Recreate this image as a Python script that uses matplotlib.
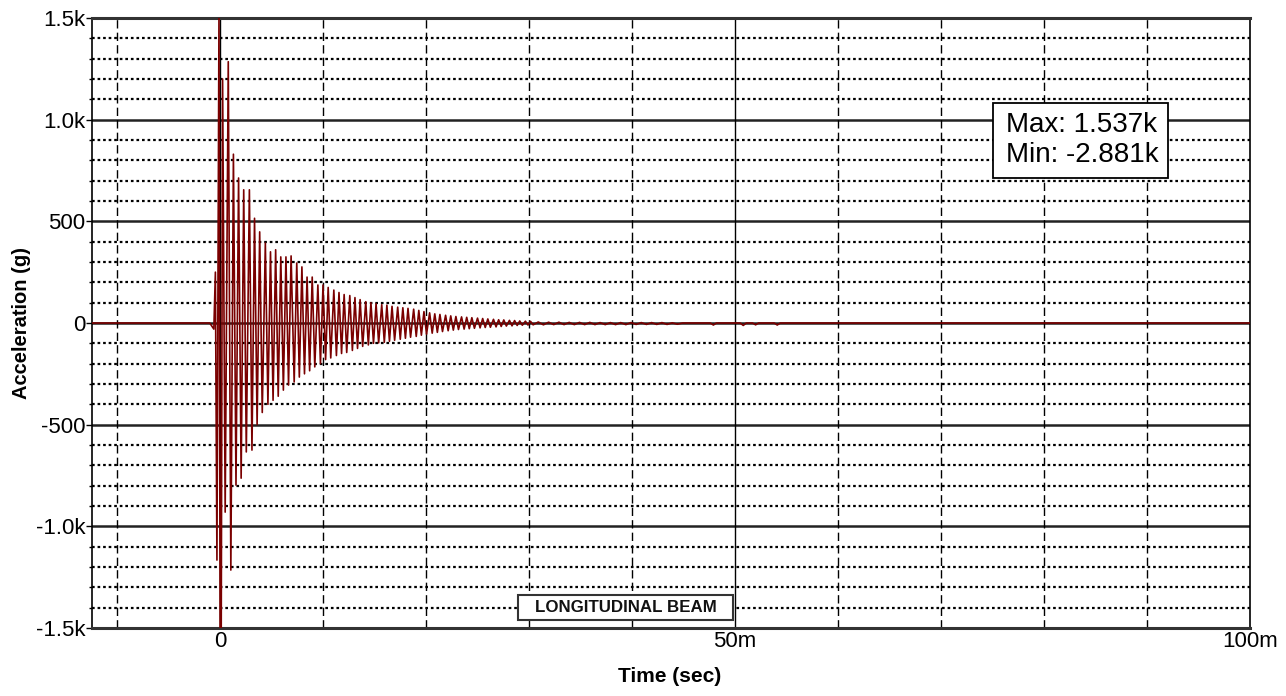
import matplotlib
matplotlib.use("Agg")
import matplotlib.pyplot as plt
from matplotlib.ticker import FixedLocator
from matplotlib.patches import Rectangle
import numpy as np

plt.rcParams['font.family'] = ['Liberation Sans', 'DejaVu Sans']

# ---- data: (time in ms, acceleration in g) ----
onset = [(-12.43, 0), (-1.0, 0), (-0.6, -30), (-0.45, 250), (-0.3, -1166), (-0.1, 1537),
         (0.05, -2881), (0.25, 1200), (0.5, -930), (0.8, 1285), (1.05, -1215), (1.3, 830),
         (1.55, -797), (1.8, 713), (2.05, -763), (2.3, 655), (2.55, -634), (2.85, 655),
         (3.1, -625)]
decay = [(3.35, 515), (3.6, -500), (3.85, 448), (4.1, -440), (4.4, 393), (4.65, -400),
         (4.9, 350), (5.15, -380), (5.4, 360), (5.65, -360), (5.9, 325), (6.15, -330),
         (6.4, 325), (6.65, -305), (6.9, 330), (7.2, -290), (7.45, 295), (7.7, -266),
         (7.95, 276), (8.2, -250), (8.45, 226), (8.7, -235), (8.95, 226), (9.2, -216),
         (9.5, 187), (9.75, -200), (10.0, 187), (10.25, -180), (10.5, 175), (10.75, -172),
         (11.05, 162), (11.3, -160), (11.55, 150), (11.8, -150), (12.05, 140), (12.3, -145),
         (12.6, 135), (12.85, -135), (13.1, 125), (13.35, -125), (13.6, 115), (13.85, -115),
         (14.15, 105), (14.4, -108), (14.65, 100), (14.9, -100), (15.15, 95), (15.4, -98),
         (15.7, 90), (15.95, -95), (16.2, 88), (16.45, -90), (16.7, 82), (16.95, -85),
         (17.25, 78), (17.5, -80), (17.75, 75), (18.0, -75), (18.25, 72), (18.5, -70),
         (18.8, 68), (19.05, -66), (19.3, 62), (19.55, -60), (19.8, 56), (20.05, -55),
         (20.35, 50), (20.6, -50), (20.85, 45), (21.1, -46), (21.35, 42), (21.6, -42),
         (21.9, 38), (22.15, -38), (22.4, 35), (22.65, -35), (22.9, 32), (23.15, -32),
         (23.45, 30), (23.7, -30), (23.95, 28), (24.2, -28), (24.45, 26), (24.7, -26),
         (25.0, 24), (25.25, -24), (25.5, 22), (25.75, -22), (26.0, 20), (26.25, -21),
         (26.55, 18), (26.8, -19), (27.05, 16), (27.3, -17), (27.55, 15), (27.8, -15),
         (28.1, 13), (28.35, -14), (28.6, 12), (28.85, -12), (29.1, 10), (29.35, -11),
         (29.65, 9), (29.9, -10), (30.15, 8), (30.4, -9)]
tail = [(30.9, 5), (31.4, -9), (31.9, 4), (32.4, -8), (32.9, 4), (33.4, -8), (33.9, 3),
        (34.4, -8), (34.9, 3), (35.4, -8), (35.9, 3), (36.4, -8), (36.9, 2), (37.4, -8),
        (37.9, 2), (38.4, -8), (38.9, 2), (39.4, -8), (39.9, 2), (40.4, -7), (40.9, 2),
        (41.4, -7), (41.9, 2), (42.4, -7), (42.9, 2), (43.4, -7), (43.9, 1), (44.4, -6),
        (44.9, 0), (47.6, 0), (47.9, -10), (48.2, 0), (50.5, 0), (50.8, -12), (51.1, 0),
        (51.7, 0), (52.0, -9), (52.3, 0), (53.8, 0), (54.1, -10), (54.4, 0), (100.0, 0)]

y_ticks = [-1500, -1000, -500, 0, 500, 1000, 1500]
y_tick_labels = ["-1.5k", "-1.0k", "-500", "0", "500", "1.0k", "1.5k"]
y_minor = [v for v in range(-1400, 1500, 100) if v % 500 != 0]
x_ticks_ms = [0, 50, 100]
x_tick_labels = ["0", "50m", "100m"]
x_minor_ms = [-10, 10, 20, 30, 40, 60, 70, 80, 90]
max_text = "Max: 1.537k"
min_text = "Min: -2.881k"
title_text = "LONGITUDINAL BEAM"

points = onset + decay + tail
t = np.array([p[0] for p in points]) / 1000.0
a = np.array([p[1] for p in points], dtype=float)

W, H = 1286, 696
L, R, T, B = 92, 1250, 18, 628
fig = plt.figure(figsize=(W/100, H/100), dpi=100)
ax = fig.add_axes([L/W, 1 - B/H, (R - L)/W, (B - T)/H])


def ax_x(px):
    return (px - L) / (R - L)


def ax_y(py):
    return 1 - (py - T) / (B - T)


ax.set_xlim(-12.43/1000, 0.1)
ax.set_ylim(-1500, 1500)

# grid lines
for v in y_minor:
    ax.axhline(v, color='black', lw=1.6, dashes=(1.2, 1.3), zorder=1)
for v in y_ticks[1:-1]:
    ax.axhline(v, color='#222222', lw=1.8, zorder=1)
for v in x_minor_ms:
    ax.axvline(v/1000, color='black', lw=1.0, dashes=(6, 3), zorder=1)
for v in x_ticks_ms[:-1]:
    ax.axvline(v/1000, color='black', lw=1.0, zorder=1)

ax.plot(t, a, color='#7a0000', lw=1.2, zorder=3)

ax.yaxis.set_major_locator(FixedLocator(y_ticks))
ax.set_yticklabels(y_tick_labels)
ax.yaxis.set_minor_locator(FixedLocator(y_minor))
ax.xaxis.set_major_locator(FixedLocator([v/1000 for v in x_ticks_ms]))
ax.set_xticklabels(x_tick_labels)
ax.tick_params(axis='y', which='major', length=4, width=1, pad=1, labelsize=16, colors='black')
ax.tick_params(axis='y', which='minor', length=2.5, width=1)
ax.tick_params(axis='x', which='major', length=0, pad=2, labelsize=16)

for s in ['top', 'bottom']:
    ax.spines[s].set_linewidth(2.2)
    ax.spines[s].set_color('#333333')
ax.spines['left'].set_linewidth(1.2)
ax.spines['right'].set_linewidth(1.2)

ax.set_xlabel("Time (sec)", fontsize=15, fontweight='bold')
ax.set_ylabel("Acceleration (g)", fontsize=14.5, fontweight='bold')
ax.xaxis.set_label_coords(ax_x(670), ax_y(667))
ax.yaxis.set_label_coords(ax_x(31), 0.5)

# Max / Min annotation box
ax.add_patch(Rectangle((ax_x(993), ax_y(178)), ax_x(1168) - ax_x(993), ax_y(103) - ax_y(178),
                       transform=ax.transAxes, facecolor='white', edgecolor='black',
                       lw=1.3, zorder=5))
ax.text(ax_x(1006), ax_y(140.5), max_text + "\n" + min_text, transform=ax.transAxes,
        ha='left', va='center', multialignment='left', fontsize=20, linespacing=1.2,
        zorder=6)

# title box
ax.add_patch(Rectangle((ax_x(518), ax_y(620)), ax_x(733) - ax_x(518), ax_y(595) - ax_y(620),
                       transform=ax.transAxes, facecolor='white', edgecolor='#333333',
                       lw=1.5, zorder=5))
ax.text(ax_x(625.5), ax_y(608), title_text, transform=ax.transAxes,
        ha='center', va='center', fontsize=12.2, fontweight='bold', color='#111111', zorder=6)

fig.savefig("out.png", dpi=100)
